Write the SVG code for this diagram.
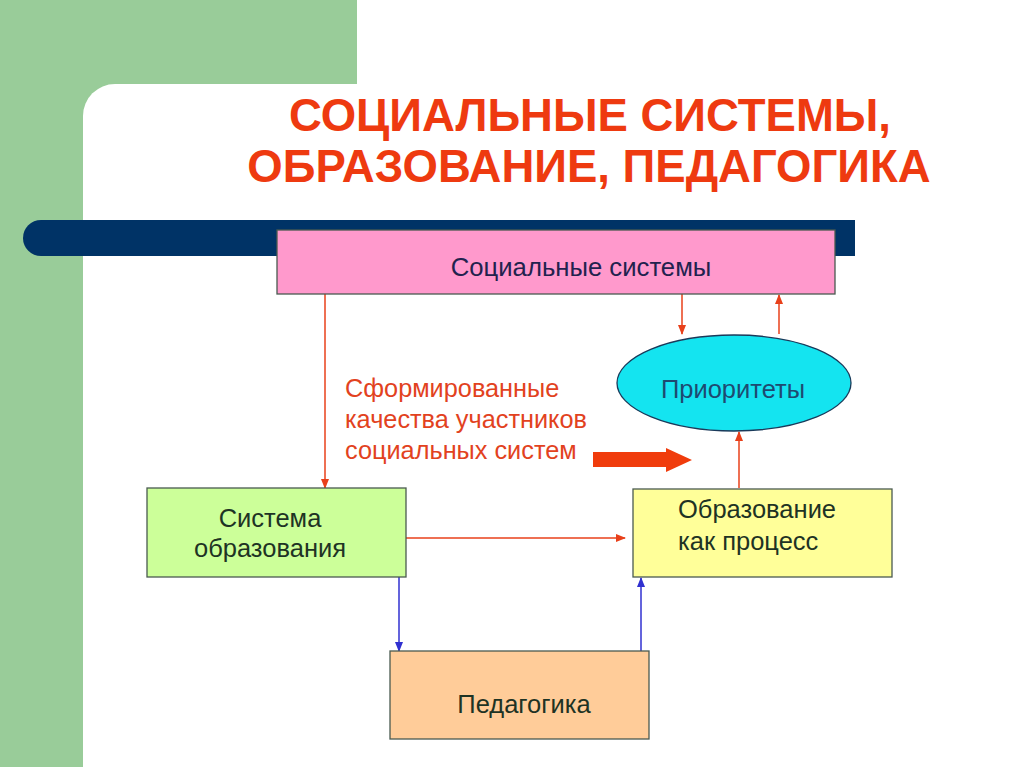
<svg xmlns="http://www.w3.org/2000/svg" width="1024" height="767" viewBox="0 0 1024 767">
<defs>
<style>
.t{font-family:"Liberation Sans",Arial,sans-serif}
.title{font-size:45.5px;font-weight:bold;fill:#EE3A10}
.lbl{font-size:25.5px;fill:#1E3324}
.red{font-size:25.3px;fill:#E2421E}
.box{stroke:#4A5A50;stroke-width:1.3}
.rl{stroke:#E8401A;stroke-width:1.5;fill:none}
.bl{stroke:#3030D0;stroke-width:1.5;fill:none}
</style>
<marker id="ar" viewBox="0 0 10 10" refX="9" refY="5" markerWidth="10" markerHeight="10" markerUnits="userSpaceOnUse" orient="auto"><path d="M0,1 L10,5 L0,9 z" fill="#E8401A"/></marker>
<marker id="ab" viewBox="0 0 10 10" refX="9" refY="5" markerWidth="10" markerHeight="10" markerUnits="userSpaceOnUse" orient="auto"><path d="M0,1 L10,5 L0,9 z" fill="#3030D0"/></marker>
</defs>
<rect width="1024" height="767" fill="#FFFFFF"/>
<rect x="0" y="0" width="357" height="767" fill="#99CC99"/>
<rect x="83" y="84" width="1000" height="760" rx="32" fill="#FFFFFF"/>
<path d="M41,220 H855 V256 H41 A18,18 0 0 1 41,220 z" fill="#003366"/>
<text class="t title" x="590" y="131" text-anchor="middle">СОЦИАЛЬНЫЕ СИСТЕМЫ,</text>
<text class="t title" x="589" y="182" text-anchor="middle">ОБРАЗОВАНИЕ, ПЕДАГОГИКА</text>
<g id="connectors">
<line class="rl" x1="325" y1="294" x2="325" y2="488" marker-end="url(#ar)"/>
<line class="rl" x1="682" y1="294" x2="682" y2="334" marker-end="url(#ar)"/>
<line class="rl" x1="779" y1="334" x2="779" y2="295" marker-end="url(#ar)"/>
<line class="rl" x1="739" y1="488" x2="739" y2="432" marker-end="url(#ar)"/>
<line class="rl" x1="406" y1="538" x2="625" y2="538" marker-end="url(#ar)"/>
<line class="bl" x1="399" y1="577" x2="399" y2="651" marker-end="url(#ab)"/>
<line class="bl" x1="641" y1="651" x2="641" y2="578" marker-end="url(#ab)"/>
<path d="M593,452 H666 V448 L692,460 L666,472 V467 H593 z" fill="#F03C0C"/>
</g>
<g id="social">
<rect class="box" x="277" y="230" width="558" height="64" fill="#FF99CC" stroke="#3A3A6A"/>
<text class="t" x="581" y="276" text-anchor="middle" font-size="25.7" fill="#22224E">Социальные системы</text>
</g>
<g id="priorities">
<ellipse cx="734" cy="383" rx="117" ry="48" fill="#14E4F0" stroke="#1A3A5A" stroke-width="1.3"/>
<text class="t" x="733" y="398" text-anchor="middle" font-size="25.5" fill="#1E4A70">Приоритеты</text>
</g>
<g id="qualities">
<text class="t red" x="345" y="397">Сформированные</text>
<text class="t red" x="345" y="428">качества участников</text>
<text class="t red" x="345" y="459">социальных систем</text>
</g>
<g id="system">
<rect class="box" x="147" y="488" width="259" height="89" fill="#CCFF99"/>
<text class="t lbl" x="270" y="527" text-anchor="middle">Система</text>
<text class="t lbl" x="270" y="557" text-anchor="middle">образования</text>
</g>
<g id="process">
<rect class="box" x="633" y="489" width="259" height="88" fill="#FFFF99"/>
<text class="t lbl" x="678" y="518">Образование</text>
<text class="t lbl" x="678" y="550">как процесс</text>
</g>
<g id="pedagogy">
<rect class="box" x="390" y="651" width="259" height="88" fill="#FFCC99"/>
<text class="t lbl" x="524" y="713" text-anchor="middle">Педагогика</text>
</g>
</svg>
